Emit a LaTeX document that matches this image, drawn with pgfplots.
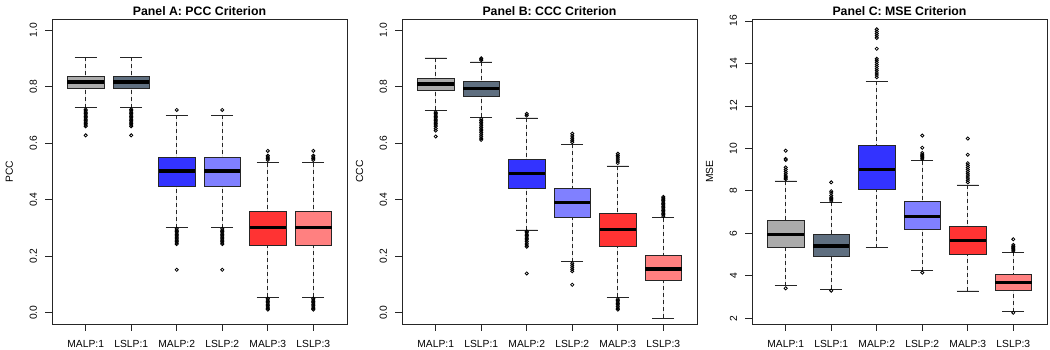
\documentclass[border=0pt]{standalone}
\usepackage{fontspec}
\setmainfont{Liberation Sans}
\usepackage{pgfplots}
\pgfplotsset{compat=1.18}
\usepgfplotslibrary{statistics}

\definecolor{cA}{HTML}{ABABAB}
\definecolor{cB}{HTML}{5F6F80}
\definecolor{cC}{HTML}{3333FF}
\definecolor{cD}{HTML}{8080FF}
\definecolor{cE}{HTML}{FF3333}
\definecolor{cF}{HTML}{FF8080}
\definecolor{ln}{HTML}{262626}

\newcommand{\rbox}[8]{%
  \addplot[fill=#7, mark=o, mark size=1.6pt,
    mark options={black, solid, fill=none, line width=0.8pt},
    boxplot prepared={draw direction=y, draw position=#1, lower whisker=#2, lower quartile=#3,
      median=#4, upper quartile=#5, upper whisker=#6,
      every box/.style={draw=ln, line width=0.65pt},
      every median/.style={line width=3.2pt, black},
      draw/lower whisker/.code={%
        \draw[ln, line width=0.65pt, dash pattern=on 4pt off 3pt]
          (boxplot cs:\pgfplotsboxplotvalue{lower whisker}) -- (boxplot cs:\pgfplotsboxplotvalue{lower quartile});
        \draw[ln, line width=0.65pt]
          (boxplot box cs:\pgfplotsboxplotvalue{lower whisker},0.2) -- (boxplot box cs:\pgfplotsboxplotvalue{lower whisker},0.8);
      },
      draw/upper whisker/.code={%
        \draw[ln, line width=0.65pt, dash pattern=on 4pt off 3pt]
          (boxplot cs:\pgfplotsboxplotvalue{upper whisker}) -- (boxplot cs:\pgfplotsboxplotvalue{upper quartile});
        \draw[ln, line width=0.65pt]
          (boxplot box cs:\pgfplotsboxplotvalue{upper whisker},0.2) -- (boxplot box cs:\pgfplotsboxplotvalue{upper whisker},0.8);
      }}]
    table[row sep=\\, y index=0] {v\\ #8};
}

\pgfplotsset{
  rpanel/.style={
    anchor=south west, width=295pt, height=305pt, scale only axis,
    xmin=0.26, xmax=6.74,
    xtick={1,...,6}, xticklabels={MALP:1,LSLP:1,MALP:2,LSLP:2,MALP:3,LSLP:3},
    tick align=outside, tick pos=left, major tick length=7pt,
    axis line style={line width=0.65pt, ln},
    every tick/.style={line width=0.65pt, ln},
    tick label style={font=\fontsize{10.3}{12}\selectfont, inner sep=0pt, outer sep=0pt},
    xticklabel style={anchor=north},
    yticklabel style={rotate=90, anchor=south},
    xticklabel shift=9.7pt, yticklabel shift=8pt,
    /pgf/number format/assume math mode=true,
    title style={font=\fontsize{12.3}{14}\selectfont\bfseries, at={(0.5,1)}, anchor=base, yshift=-2.3pt, inner sep=0pt},
    ylabel style={font=\fontsize{10.3}{12}\selectfont, at={([xshift=-38.7pt]axis description cs:0,0.5)}, anchor=south, inner sep=0pt},
  },
  unitaxis/.style={
    ymin=-0.04, ymax=1.04, ytick={0,0.2,0.4,0.6,0.8,1.0},
    yticklabel style={/pgf/number format/.cd, fixed, fixed zerofill, precision=1},
  },
}

\begin{document}
\begin{tikzpicture}
\useasboundingbox (0,0) rectangle (1050pt,350pt);

% Panel A
\begin{axis}[rpanel, unitaxis, at={(52pt,26pt)}, title={Panel A: PCC Criterion}, ylabel={PCC}]
\rbox{1}{0.726}{0.793}{0.817}{0.837}{0.904}{cA}{0.72\\0.715\\0.71\\0.705\\0.70\\0.695\\0.69\\0.685\\0.68\\0.675\\0.67\\0.665\\0.66\\0.628\\}
\rbox{2}{0.726}{0.793}{0.817}{0.837}{0.904}{cB}{0.72\\0.715\\0.71\\0.705\\0.70\\0.695\\0.69\\0.685\\0.68\\0.675\\0.67\\0.665\\0.66\\0.628\\}
\rbox{3}{0.301}{0.449}{0.502}{0.551}{0.700}{cC}{0.718\\0.297\\0.292\\0.287\\0.282\\0.277\\0.272\\0.267\\0.262\\0.257\\0.252\\0.247\\0.243\\0.152\\}
\rbox{4}{0.301}{0.449}{0.502}{0.551}{0.700}{cD}{0.718\\0.297\\0.292\\0.287\\0.282\\0.277\\0.272\\0.267\\0.262\\0.257\\0.252\\0.247\\0.243\\0.152\\}
\rbox{5}{0.055}{0.237}{0.302}{0.360}{0.531}{cE}{0.541\\0.546\\0.551\\0.556\\0.573\\0.050\\0.045\\0.040\\0.035\\0.030\\0.025\\0.020\\0.015\\0.011\\}
\rbox{6}{0.055}{0.237}{0.302}{0.360}{0.531}{cF}{0.541\\0.546\\0.551\\0.556\\0.573\\0.050\\0.045\\0.040\\0.035\\0.030\\0.025\\0.020\\0.015\\0.011\\}
\end{axis}

% Panel B
\begin{axis}[rpanel, unitaxis, at={(402pt,26pt)}, title={Panel B: CCC Criterion}, ylabel={CCC}]
\rbox{1}{0.716}{0.786}{0.810}{0.831}{0.902}{cA}{0.710\\0.705\\0.70\\0.695\\0.69\\0.685\\0.68\\0.675\\0.67\\0.665\\0.66\\0.652\\0.645\\0.624\\}
\rbox{2}{0.692}{0.767}{0.793}{0.818}{0.888}{cB}{0.894\\0.898\\0.901\\0.686\\0.68\\0.674\\0.668\\0.662\\0.656\\0.65\\0.644\\0.638\\0.632\\0.625\\0.618\\0.612\\}
\rbox{3}{0.293}{0.442}{0.493}{0.542}{0.690}{cC}{0.698\\0.704\\0.288\\0.283\\0.278\\0.273\\0.268\\0.263\\0.258\\0.252\\0.246\\0.240\\0.234\\0.139\\}
\rbox{4}{0.181}{0.338}{0.390}{0.442}{0.596}{cD}{0.604\\0.611\\0.618\\0.626\\0.634\\0.175\\0.168\\0.161\\0.154\\0.147\\0.099\\}
\rbox{5}{0.054}{0.234}{0.296}{0.352}{0.520}{cE}{0.530\\0.537\\0.544\\0.551\\0.557\\0.563\\0.048\\0.043\\0.038\\0.033\\0.028\\0.022\\0.016\\0.011\\}
\rbox{6}{-0.019}{0.113}{0.155}{0.202}{0.336}{cF}{0.342\\0.347\\0.352\\0.357\\0.362\\0.367\\0.372\\0.377\\0.382\\0.387\\0.392\\0.397\\0.402\\0.406\\0.410\\}
\end{axis}

% Panel C
\begin{axis}[rpanel, at={(752pt,26pt)}, title={Panel C: MSE Criterion}, ylabel={MSE},
  ymin=1.73, ymax=16.09, ytick={2,4,...,16}]
\rbox{1}{3.54}{5.36}{5.94}{6.60}{8.47}{cA}{8.55\\8.6\\8.65\\8.7\\8.8\\8.9\\9.0\\9.1\\9.45\\9.5\\9.89\\3.41\\}
\rbox{2}{3.37}{4.92}{5.40}{5.95}{7.46}{cB}{7.52\\7.58\\7.64\\7.70\\7.78\\7.90\\7.98\\8.40\\3.30\\}
\rbox{3}{5.32}{8.09}{9.02}{10.13}{13.17}{cC}{13.35\\13.45\\13.55\\13.65\\13.75\\13.85\\13.95\\14.05\\14.15\\14.22\\14.69\\15.2\\15.3\\15.4\\15.5\\15.6\\}
\rbox{4}{4.24}{6.20}{6.80}{7.49}{9.42}{cD}{9.50\\9.55\\9.60\\9.65\\9.70\\9.78\\10.03\\10.6\\4.15\\}
\rbox{5}{3.29}{5.03}{5.65}{6.31}{8.28}{cE}{8.4\\8.5\\8.6\\8.7\\8.8\\8.9\\9.0\\9.1\\9.2\\9.3\\9.70\\10.46\\}
\rbox{6}{2.31}{3.33}{3.68}{4.05}{5.11}{cF}{5.17\\5.22\\5.27\\5.32\\5.38\\5.45\\5.72\\2.26\\}
\end{axis}
\end{tikzpicture}
\end{document}
